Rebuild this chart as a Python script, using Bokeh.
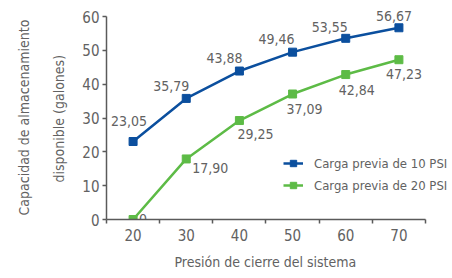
from bokeh.plotting import figure
from bokeh.models import Range1d, FixedTicker, ColumnDataSource, Legend, LegendItem, Title
from bokeh.core.properties import value
from bokeh.embed import file_html
from bokeh.resources import INLINE

presion = [20, 30, 40, 50, 60, 70]
carga_10 = [23.05, 35.79, 43.88, 49.46, 53.55, 56.67]
carga_20 = [0, 17.90, 29.25, 37.09, 42.84, 47.23]
labels_10 = ["23,05", "35,79", "43,88", "49,46", "53,55", "56,67"]
labels_20 = ["0", "17,90", "29,25", "37,09", "42,84", "47,23"]
y_ticks = [0, 10, 20, 30, 40, 50, 60]
x_title = "Presión de cierre del sistema"
y_title = ["Capacidad de almacenamiento", "disponible (galones)"]
series_names = ["Carga previa de 10 PSI", "Carga previa de 20 PSI"]

# label placement (screen px), styling only
dx_10 = [-4, -15, -15, -16, -16, -5]
dy_10 = [-21, -12, -13, -13, -11, -12]
dx_20 = [10, 24, 16, 12, 11, 5]
dy_20 = [-1, 9, 13, 15, 15, 14]

FONT = "'DejaVu Sans Condensed', 'DejaVu Sans', sans-serif"
GRAY = "#626262"
AXIS = "#5a5a5a"
BLUE = "#0b4f9e"
GREEN = "#5dbb46"

p = figure(width=452, height=278, output_backend="svg", toolbar_location=None,
           x_range=Range1d(15, 80.08), y_range=Range1d(0, 64.73),
           min_border_left=106, min_border_right=0, min_border_top=0, min_border_bottom=59)
p.outline_line_color = None
p.xgrid.visible = False
p.ygrid.visible = False
p.background_fill_color = None
p.border_fill_color = None

xa = p.xaxis[0]
xa.bounds = (15, 75)
xa.ticker = FixedTicker(ticks=presion, minor_ticks=[15, 25, 35, 45, 55, 65, 75])
xa.major_tick_in = 0
xa.major_tick_out = 0
xa.minor_tick_in = 0
xa.minor_tick_out = 4
xa.minor_tick_line_color = AXIS
xa.minor_tick_line_width = 1.5
xa.axis_line_color = AXIS
xa.axis_line_width = 1.5
xa.major_label_text_font = FONT
xa.major_label_text_font_size = "15px"
xa.major_label_text_color = GRAY
xa.major_label_standoff = 5

ya = p.yaxis[0]
ya.bounds = (0, 60)
ya.ticker = FixedTicker(ticks=y_ticks, minor_ticks=[])
ya.major_tick_in = 0
ya.major_tick_out = 4
ya.major_tick_line_color = AXIS
ya.major_tick_line_width = 1.5
ya.axis_line_color = AXIS
ya.axis_line_width = 1.5
ya.major_label_text_font = FONT
ya.major_label_text_font_size = "15px"
ya.major_label_text_color = GRAY
ya.major_label_standoff = 3

tx = Title(text=x_title, align="left", offset=68, text_font=FONT,
           text_font_size="14px", text_font_style="normal", text_color=GRAY, standoff=17)
p.add_layout(tx, "below")
ty2 = Title(text=y_title[1], align="left", offset=37, text_font=FONT,
            text_font_size="14px", text_font_style="normal", text_color=GRAY, standoff=26)
ty1 = Title(text=y_title[0], align="left", offset=4, text_font=FONT,
            text_font_size="14px", text_font_style="normal", text_color=GRAY, standoff=7)
p.add_layout(ty2, "left")
p.add_layout(ty1, "left")

l1 = p.line(presion, carga_10, line_color=BLUE, line_width=2.5)
m1 = p.scatter(presion, carga_10, marker="square", size=8, fill_color=BLUE, line_color=BLUE)
l2 = p.line(presion, carga_20, line_color=GREEN, line_width=2.5)
m2 = p.scatter(presion, carga_20, marker="square", size=8, fill_color=GREEN, line_color=GREEN)

s1 = ColumnDataSource(dict(x=presion, y=carga_10, t=labels_10, dx=dx_10, dy=dy_10))
s2 = ColumnDataSource(dict(x=presion, y=carga_20, t=labels_20, dx=dx_20, dy=dy_20))
for s in (s1, s2):
    p.text(x="x", y="y", text="t", x_offset="dx", y_offset="dy", source=s,
           text_font=value(FONT), text_font_size="14px", text_color=GRAY,
           text_align="center", text_baseline="middle")

legend = Legend(items=[
    LegendItem(label=series_names[0], renderers=[l1, m1]),
    LegendItem(label=series_names[1], renderers=[l2, m2]),
], location=(177, 26))
legend.background_fill_alpha = 0
legend.border_line_color = None
legend.label_text_font = FONT
legend.label_text_font_size = "13px"
legend.label_text_color = GRAY
legend.glyph_width = 20
legend.glyph_height = 16
legend.label_standoff = 11
legend.spacing = 6
legend.padding = 2
legend.margin = 0
p.add_layout(legend, "center")

open("out.html", "w").write(file_html(p, INLINE))
